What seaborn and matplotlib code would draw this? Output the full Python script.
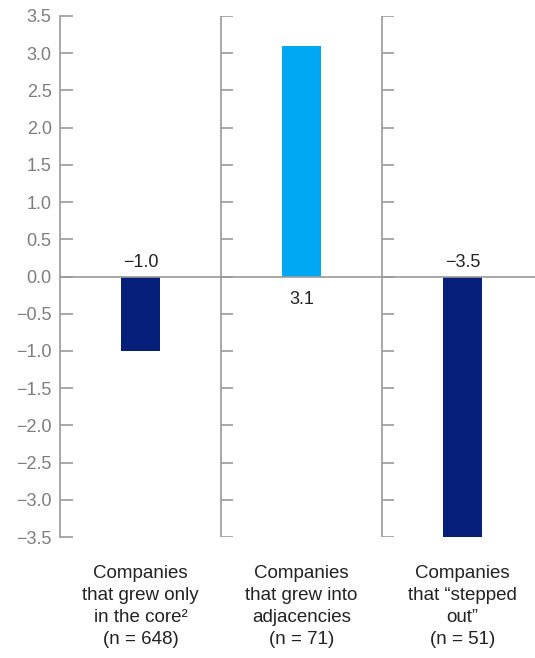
import matplotlib
matplotlib.use("Agg")
import matplotlib.pyplot as plt
import seaborn as sns
import numpy as np
import pandas as pd

categories = [
    "Companies\nthat grew only\nin the core\u00b2\n(n = 648)",
    "Companies\nthat grew into\nadjacencies\n(n = 71)",
    "Companies\nthat \u201cstepped\nout\u201d\n(n = 51)",
]
values = [-1.0, 3.1, -3.5]
bar_colors = ["#061f7a", "#00a8f3", "#061f7a"]
y_ticks = [3.5, 3.0, 2.5, 2.0, 1.5, 1.0, 0.5, 0.0, -0.5, -1.0, -1.5, -2.0, -2.5, -3.0, -3.5]

sns.set_theme(style="white")
plt.rcParams["font.family"] = ["Liberation Sans", "DejaVu Sans"]

df = pd.DataFrame({"group": categories, "value": values})

W, H = 535, 658
fig = plt.figure(figsize=(W / 100, H / 100), dpi=100)
left_px, top_px, bottom_px = 60, 16, 537
ax = fig.add_axes([left_px / W, 1 - bottom_px / H, 1 - left_px / W, (bottom_px - top_px) / H])

sns.barplot(data=df, x="group", y="value", hue="group", palette=bar_colors,
            width=0.242, legend=False, ax=ax, saturation=1, linewidth=0)

ax.set_ylim(-3.5, 3.5)
ax.set_xlim(-0.5, 2.45)
ax.set_yticks(y_ticks)
ax.set_yticklabels([f"{t:.1f}".replace("-", "\u2212") for t in y_ticks])
ax.set_xlabel("")
ax.set_ylabel("")

spine_c = "#9a9a9a"
for s in ["top", "right", "bottom"]:
    ax.spines[s].set_visible(False)
ax.spines["left"].set_color(spine_c)
ax.spines["left"].set_linewidth(1.2)

ax.tick_params(axis="y", direction="in", length=9, width=1.2, color=spine_c,
               labelsize=13, labelcolor="#7d7d7d", pad=6, left=True)
ax.tick_params(axis="x", length=0, labelsize=13.5, labelcolor="#222222", pad=20)
for lab in ax.get_xticklabels():
    lab.set_linespacing(1.4)

# Panel dividers with their own tick marks
tick_len = 12 / 161
for xp in [0.5, 1.5]:
    ax.axvline(xp, color=spine_c, lw=1.2, zorder=1)
    ax.hlines(y_ticks, xp, xp + tick_len, color=spine_c, lw=1.2, zorder=1)

# Zero baseline
ax.axhline(0, color=spine_c, lw=1.2, zorder=3)

# Value labels
for i, v in enumerate(values):
    txt = f"{v:.1f}".replace("-", "\u2212")
    y = 0.19 if v < 0 else -0.31
    ax.text(i, y, txt, ha="center", va="center", fontsize=13, color="#222222")

fig.savefig("out.png", dpi=100)
